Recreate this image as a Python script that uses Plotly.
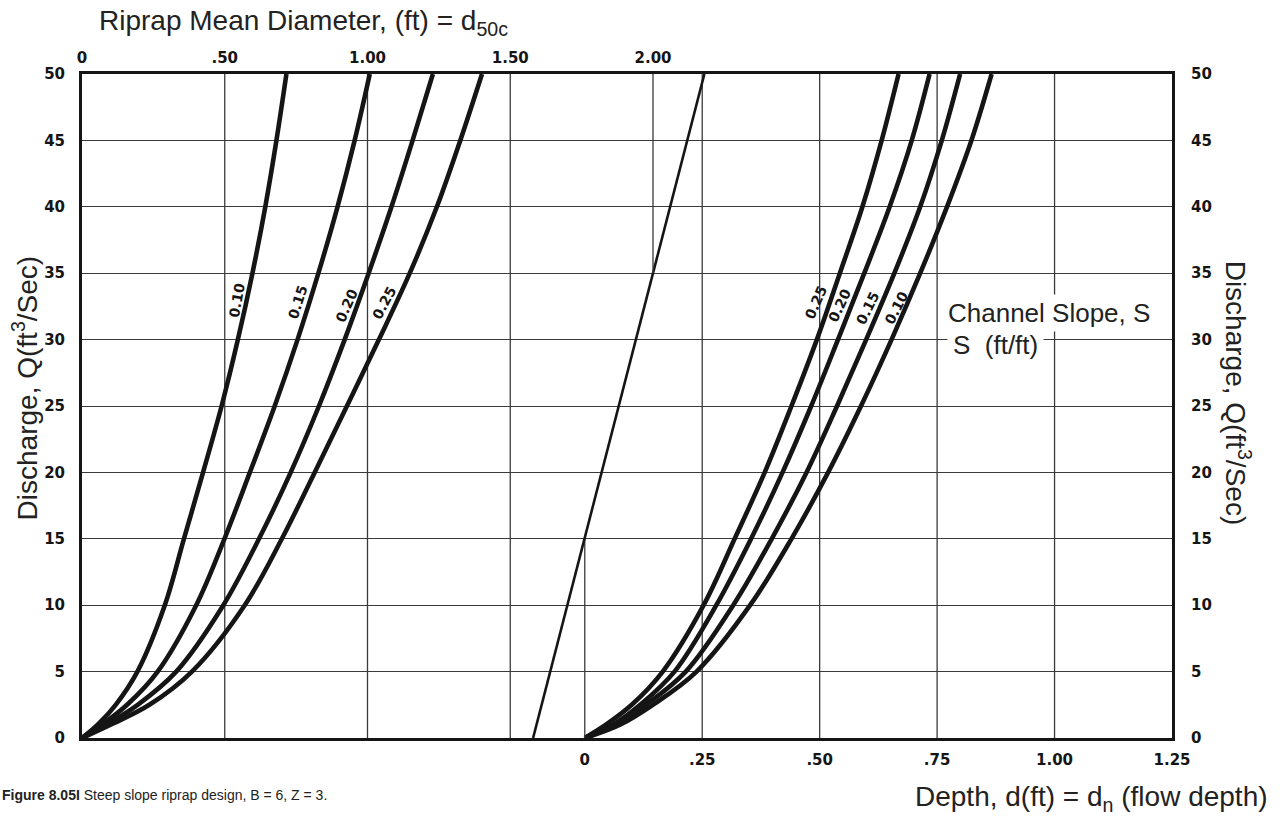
import plotly.graph_objects as go

# Discharge values (ft^3/s) at which each design curve is tabulated
discharge = [0, 1, 2.5, 5, 10, 15, 20, 25, 30, 35, 40, 45, 50]

# Riprap mean diameter d50c (ft) for each channel slope
slopes = ["0.10", "0.15", "0.20", "0.25"]
d50_by_slope = {
    "0.10": [0, 0.055, 0.118, 0.194, 0.290, 0.357, 0.424, 0.489, 0.546, 0.597, 0.642, 0.681, 0.716],
    "0.15": [0, 0.070, 0.158, 0.265, 0.400, 0.499, 0.588, 0.675, 0.755, 0.828, 0.895, 0.955, 1.008],
    "0.20": [0, 0.085, 0.195, 0.330, 0.495, 0.620, 0.731, 0.830, 0.920, 1.004, 1.084, 1.158, 1.229],
    "0.25": [0, 0.100, 0.236, 0.385, 0.570, 0.700, 0.815, 0.928, 1.040, 1.148, 1.243, 1.325, 1.401],
}

# Normal flow depth dn (ft) for each channel slope
depth_by_slope = {
    "0.25": [0, 0.045, 0.100, 0.166, 0.253, 0.319, 0.383, 0.440, 0.494, 0.543, 0.591, 0.632, 0.668],
    "0.20": [0, 0.060, 0.118, 0.191, 0.280, 0.354, 0.421, 0.482, 0.539, 0.595, 0.649, 0.696, 0.734],
    "0.15": [0, 0.066, 0.130, 0.215, 0.316, 0.398, 0.472, 0.537, 0.599, 0.659, 0.714, 0.760, 0.799],
    "0.10": [0, 0.075, 0.145, 0.238, 0.352, 0.440, 0.518, 0.588, 0.653, 0.714, 0.771, 0.823, 0.866],
}

# Straight turning line between the two scales (on the d50 scale)
turn_d50 = [1.58, 2.18]
turn_q = [0, 50]

# Scale ticks
d50_ticks = [0, 0.5, 1.0, 1.5, 2.0]
d50_ticktext = ["0", ".50", "1.00", "1.50", "2.00"]
depth_ticks = [0, 0.25, 0.5, 0.75, 1.0, 1.25]
depth_ticktext = ["0", ".25", ".50", ".75", "1.00", "1.25"]
q_ticks = list(range(0, 55, 5))

# Grid lines: full-height ones and the two that stop at the turning line
d50_grid = [0.5, 1.0, 1.5]
depth_grid = [0.25, 0.5, 0.75, 1.0]
d50_partial_x, d50_partial_q = [2.0, 2.0], [35, 50]
depth_partial_x, depth_partial_q = [0, 0], [0, 15.2]

# Curve label placement (value, scale coord, discharge, angle)
left_labels = [("0.10", 0.542, 33.0, -80), ("0.15", 0.757, 32.8, -72),
               ("0.20", 0.928, 32.6, -66), ("0.25", 1.061, 32.8, -62)]
right_labels = [("0.25", 0.493, 32.8, -66), ("0.20", 0.543, 32.6, -65),
                ("0.15", 0.602, 32.4, -64), ("0.10", 0.663, 32.4, -63)]

INK = "#151515"
GRID = "#3a3a3a"
SANS = "Liberation Sans, Arial, sans-serif"
TICKFONT = dict(family="DejaVu Sans", size=15, color=INK, weight="bold")
TITLEFONT = dict(family=SANS, size=28, color="#222")
LABELFONT = dict(family="DejaVu Sans", size=14, color=INK, weight="bold")
CURVE = dict(color=INK, width=4.6, shape="spline", smoothing=1.0)

fig = go.Figure()

for s in slopes:
    fig.add_trace(go.Scatter(x=d50_by_slope[s], y=discharge, xaxis="x2", yaxis="y",
                             mode="lines", line=CURVE, showlegend=False, hoverinfo="skip"))
for s in depth_by_slope:
    fig.add_trace(go.Scatter(x=depth_by_slope[s], y=discharge, xaxis="x", yaxis="y",
                             mode="lines", line=CURVE, showlegend=False, hoverinfo="skip"))

fig.add_trace(go.Scatter(x=turn_d50, y=turn_q, xaxis="x2", yaxis="y", mode="lines",
                         line=dict(color=INK, width=2.6), showlegend=False, hoverinfo="skip"))
fig.add_trace(go.Scatter(x=d50_partial_x, y=d50_partial_q, xaxis="x2", yaxis="y", mode="lines",
                         line=dict(color=GRID, width=1.3), showlegend=False, hoverinfo="skip"))
fig.add_trace(go.Scatter(x=depth_partial_x, y=depth_partial_q, xaxis="x", yaxis="y", mode="lines",
                         line=dict(color=GRID, width=1.3), showlegend=False, hoverinfo="skip"))

for g in d50_grid:
    fig.add_shape(type="line", xref="x2", yref="y", x0=g, x1=g, y0=0, y1=50,
                  line=dict(color=GRID, width=1.3), layer="below")
for g in depth_grid:
    fig.add_shape(type="line", xref="x", yref="y", x0=g, x1=g, y0=0, y1=50,
                  line=dict(color=GRID, width=1.3), layer="below")

for txt, xv, qv, ang in left_labels:
    fig.add_annotation(x=xv, y=qv, xref="x2", yref="y", text=txt, showarrow=False,
                       textangle=ang, font=LABELFONT)
for txt, xv, qv, ang in right_labels:
    fig.add_annotation(x=xv, y=qv, xref="x", yref="y", text=txt, showarrow=False,
                       textangle=ang, font=LABELFONT)

# Slope legend text, each line on its own white patch
fig.add_annotation(x=0.7905, y=32.0, xref="paper", yref="y", xanchor="left", yanchor="middle",
                   text="Channel Slope, S", showarrow=False, bgcolor="white", borderpad=3,
                   font=dict(family=SANS, size=26, color="#222"))
fig.add_annotation(x=0.7935, y=29.6, xref="paper", yref="y", xanchor="left", yanchor="middle",
                   text="S  (ft/ft)", showarrow=False, bgcolor="white", borderpad=5,
                   font=dict(family=SANS, size=26, color="#222"))

# Axis titles and caption
fig.add_annotation(x=0.0138, y=1.078, xref="paper", yref="paper", xanchor="left", yanchor="middle",
                   text="Riprap Mean Diameter, (ft) = d<sub>50c</sub>", showarrow=False, font=TITLEFONT)
fig.add_annotation(x=-0.052, y=0.527, xref="paper", yref="paper", xanchor="center", yanchor="middle",
                   textangle=-90, text="Discharge, Q(ft<sup>3</sup>/Sec)", showarrow=False, font=TITLEFONT)
fig.add_annotation(x=1.0606, y=0.52, xref="paper", yref="paper", xanchor="center", yanchor="middle",
                   textangle=90, text="Discharge, Q(ft<sup>3</sup>/Sec)", showarrow=False, font=TITLEFONT)
fig.add_annotation(x=1.09, y=-0.0904, xref="paper", yref="paper", xanchor="right", yanchor="middle",
                   text="Depth, d(ft) = d<sub>n</sub> (flow depth)", showarrow=False, font=TITLEFONT)
fig.add_annotation(x=-0.0752, y=-0.0858, xref="paper", yref="paper", xanchor="left", yanchor="middle",
                   text="<b>Figure 8.05I</b> Steep slope riprap design, B = 6, Z = 3.", showarrow=False,
                   font=dict(family=SANS, size=14, color="#222"))

fig.update_layout(
    width=1280, height=816,
    margin=dict(l=82, r=108, t=74, b=78),
    paper_bgcolor="white", plot_bgcolor="white",
    showlegend=False,
    xaxis=dict(range=[-503 / 470, 1.25], tickvals=depth_ticks, ticktext=depth_ticktext,
               showgrid=False, zeroline=False, showline=True, linewidth=3, linecolor=INK,
               mirror=True, ticks="", tickfont=TICKFONT, ticklabelstandoff=6),
    xaxis2=dict(range=[0, 1090 / 285.5], overlaying="x", side="top", tickvals=d50_ticks,
                ticktext=d50_ticktext, showgrid=False, zeroline=False, showline=False,
                ticks="", tickfont=TICKFONT, ticklabelstandoff=7),
    yaxis=dict(range=[0, 50], tickvals=q_ticks, showgrid=True, gridcolor=GRID, gridwidth=1.3,
               zeroline=False, showline=True, linewidth=3, linecolor=INK, mirror=True,
               ticks="", tickfont=TICKFONT, ticklabelstandoff=11),
    yaxis2=dict(range=[0, 50], overlaying="y", side="right", tickvals=q_ticks, showgrid=False,
                zeroline=False, showline=False, ticks="", tickfont=TICKFONT, ticklabelstandoff=18),
)

# Give the right-hand discharge scale a trace so its ticks render
fig.add_trace(go.Scatter(x=[None], y=[None], xaxis="x", yaxis="y2", showlegend=False, hoverinfo="skip"))

fig.write_html("out.html")
